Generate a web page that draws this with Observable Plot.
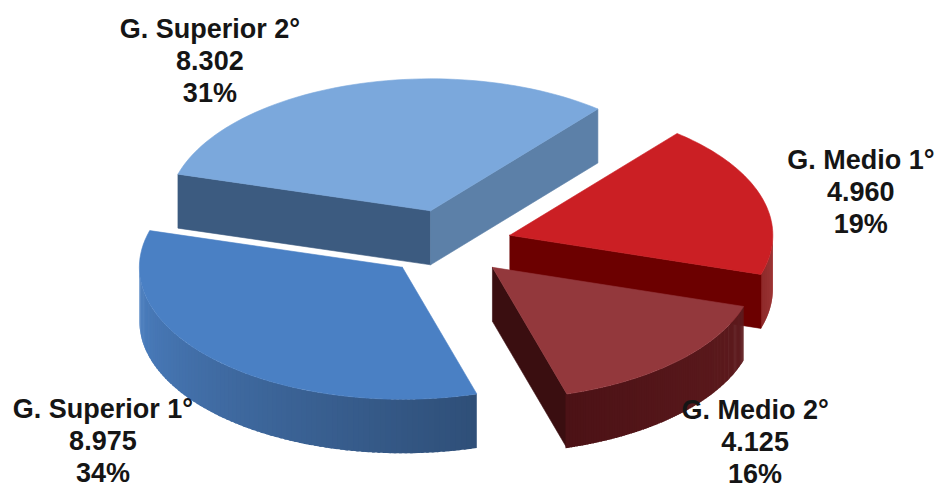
<!DOCTYPE html>
<html><head><meta charset="utf-8">
<script src="https://cdn.jsdelivr.net/npm/d3@7"></script>
<script src="https://cdn.jsdelivr.net/npm/@observablehq/plot@0.6"></script>
<style>html,body{margin:0;padding:0;background:#fff}svg{display:block}</style>
</head><body><div id="chart"></div>
<script>
const categories = ["G. Medio 1°", "G. Medio 2°", "G. Superior 1°", "G. Superior 2°"];
const values = [4960, 4125, 8975, 8302];
const topColors = ["#cb1f24", "#93383c", "#4a80c4", "#7ba8dc"];
const wallFrom = ["#8a0808", "#5e1b1e", "#4c80c2", "#5c80a8"];
const wallTo = ["#7a0404", "#4c1216", "#2f4f78", "#5c80a8"];
const cutColors = ["#6c0000", "#3a0e10", null, "#3c5b80"];
const labelOffset = [[99, -7], [78, 79], [-114, 79], [-143, -25]];
const sliceNudge = [[1, 0], [0, 0], [0, 0], [2, -3]];

const W = 938, H = 488;
const pie = {cx: 447, cy: 244, rx: 263, ry: 132, depth: 54, explode: 64, start: 39.5};
const rad = d => d * Math.PI / 180;
const total = d3.sum(values);
const fmt = d3.formatLocale({decimal: ",", thousands: ".", grouping: [3], currency: ["", ""]}).format(",");

let a = pie.start;
const slices = values.map((v, i) => {
  const a0 = a, a1 = a + v / total * 360; a = a1;
  const mid = (a0 + a1) / 2;
  const ax = pie.cx + pie.explode * Math.sin(rad(mid)) + sliceNudge[i][0];
  const ay = pie.cy - pie.explode * Math.cos(rad(mid)) * pie.ry / pie.rx + sliceNudge[i][1];
  const at = (deg, dz = 0) => ({x: ax + pie.rx * Math.sin(rad(deg)), y: ay - pie.ry * Math.cos(rad(deg)) + dz});
  const outer = at(mid);
  return {i, a0, a1, mid, ax, ay, at, name: categories[i],
    lx: outer.x + labelOffset[i][0], ly: outer.y + labelOffset[i][1],
    label: `${categories[i]}\n${fmt(v)}\n${Math.round(v / total * 100)}%`};
});

const poly = (pts, color, sw = 0.6) => Plot.line([...pts, pts[0]], {x: "x", y: "y", fill: color, stroke: color, strokeWidth: sw});
const arc = (s, a0, a1, dz = 0, n = 60) => d3.range(0, n + 1).map(k => s.at(a0 + (a1 - a0) * k / n, dz));

function sliceMarks(s) {
  const m = [];
  const apex = {x: s.ax, y: s.ay}, apexLow = {x: s.ax, y: s.ay + pie.depth};
  // straight cut faces that look toward the viewer
  if (s.i === 0) m.push(poly([apex, s.at(s.a1), s.at(s.a1, pie.depth), apexLow], cutColors[0]));
  if (s.i === 1) m.push(poly([apex, s.at(s.a1), s.at(s.a1, pie.depth), apexLow], cutColors[1]));
  if (s.i === 3) {
    m.push(poly([apex, s.at(s.a0), s.at(s.a0, pie.depth), apexLow], cutColors[3]));
    m.push(poly([apex, s.at(s.a1), s.at(s.a1, pie.depth), apexLow], wallFrom[3]));
  }
  // rounded outer wall, front half only
  const lo = Math.max(s.a0, 90), hi = Math.min(s.a1, 270);
  if (hi > lo && s.i !== 3) {
    const c = d3.interpolateRgb(wallFrom[s.i], wallTo[s.i]);
    const n = 90;
    for (let k = 0; k < n; k++) {
      const d0 = lo + (hi - lo) * k / n, d1 = lo + (hi - lo) * (k + 1.5) / n;
      const t = s.i === 2 ? 1 - (k + .5) / n : (k + .5) / n;
      const seg = [...arc(s, d0, d1, 0, 2), ...arc(s, d1, d0, pie.depth, 2)];
      m.push(Plot.line([...seg, seg[0]], {x: "x", y: "y", fill: c(t), stroke: "none"}));
    }
  }
  // top face
  m.push(poly([apex, ...arc(s, s.a0, s.a1)], topColors[s.i]));
  return m;
}

const order = [3, 0, 2, 1];
const marks = order.flatMap(i => sliceMarks(slices[i]));
marks.push(Plot.text(slices, {
  x: "lx", y: "ly", text: "label", textAnchor: "middle", lineAnchor: "middle",
  lineHeight: 1.19, fontSize: 27, fontWeight: "bold", fontFamily: "'Liberation Sans', Arial, sans-serif", fill: "#151515"
}));

const plot = Plot.plot({
  width: W, height: H, margin: 0,
  x: {domain: [0, W], range: [0, W], axis: null},
  y: {domain: [0, H], range: [0, H], axis: null},
  marks
});
plot.style.background = "#fff";
document.getElementById("chart").append(plot);
</script></body></html>
